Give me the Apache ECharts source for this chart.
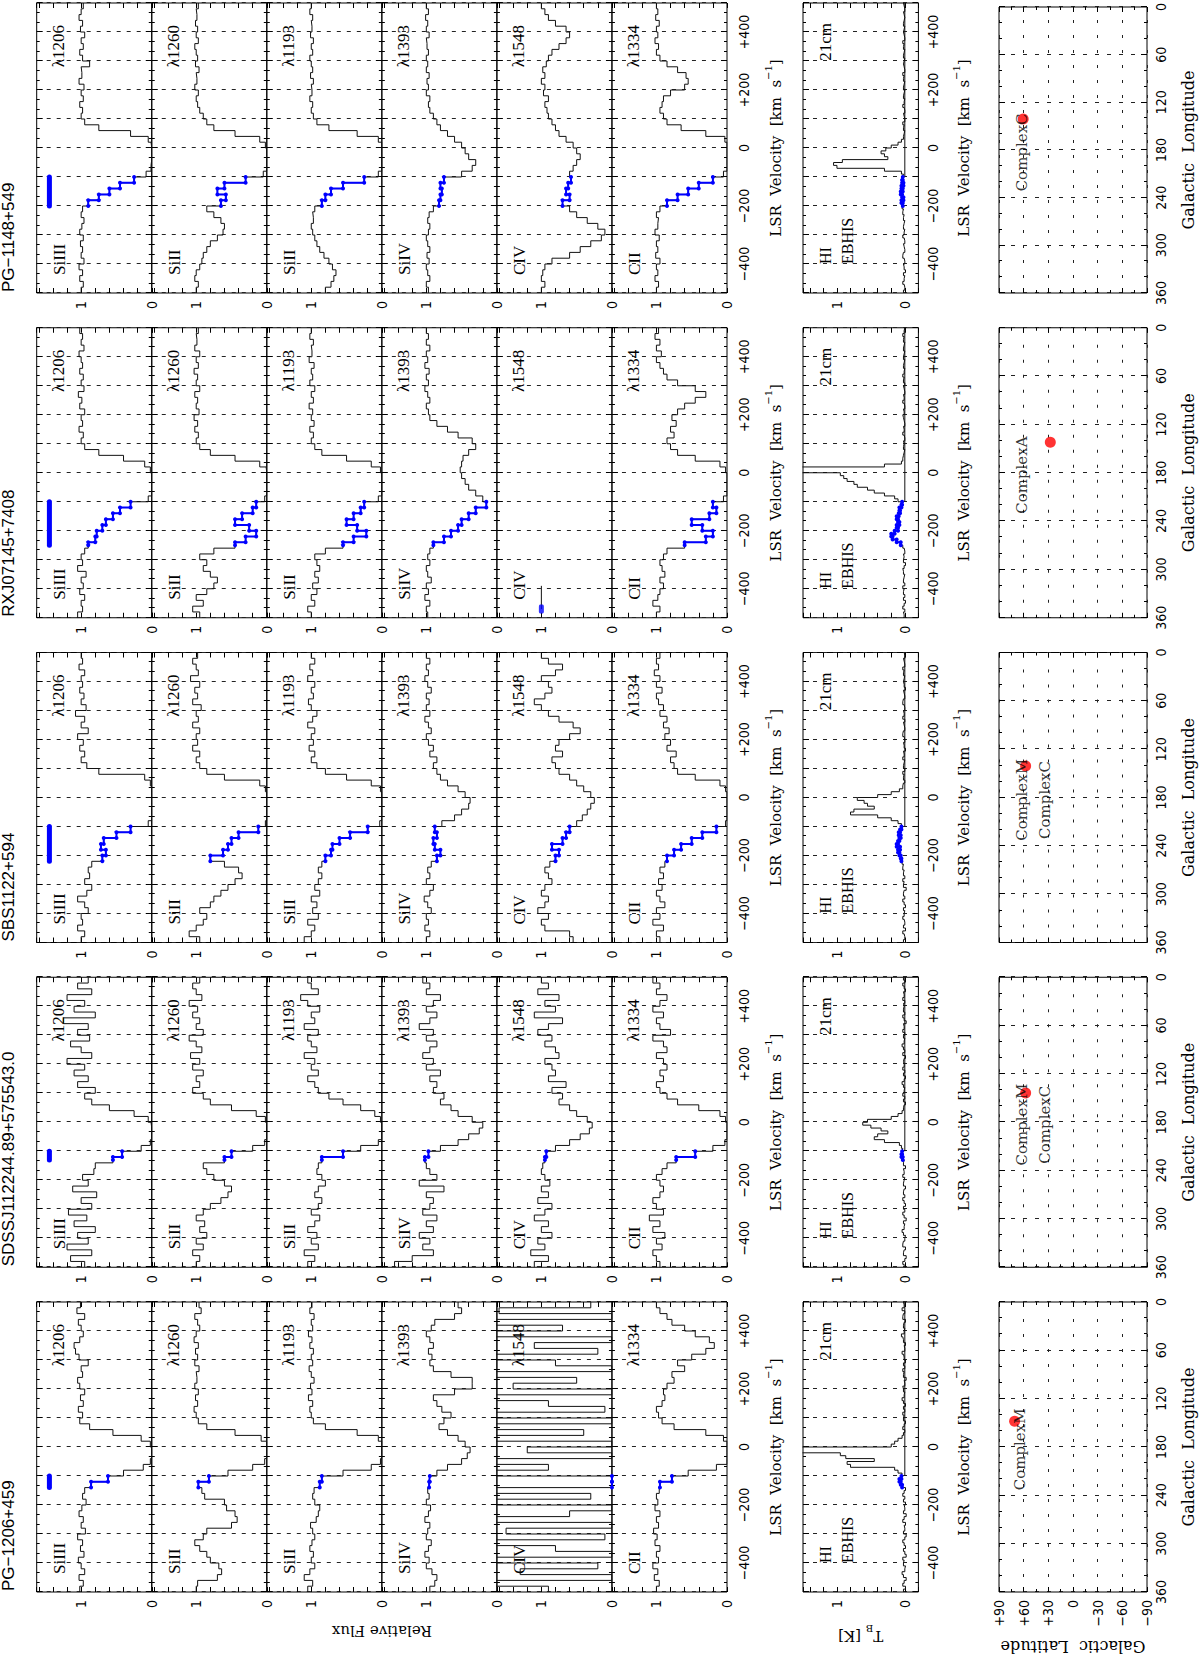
<!DOCTYPE html>
<html>
<head>
<meta charset="utf-8">
<script src="https://cdn.jsdelivr.net/npm/echarts/dist/echarts.min.js"></script>
<style>
html,body{margin:0;padding:0;background:#fff;overflow:hidden;width:1200px;height:1655px;}
#chart{position:absolute;left:0;top:0;width:1655px;height:1200px;transform-origin:0 0;transform:translate(0,1655px) rotate(-90deg);}
</style>
</head>
<body>
<div id="chart"></div>
<script>
// ---------------- DATA ----------------
const SIGHTLINES = ['PG\u22121206+459', 'SDSSJ112244.89+575543.0', 'SBS1122+594', 'RXJ07145+7408', 'PG\u22121148+549'];
const IONS = ['SiIII', 'SiII', 'SiII', 'SiIV', 'CIV', 'CII'];
const LINES = ['\u03bb1206', '\u03bb1260', '\u03bb1193', '\u03bb1393', '\u03bb1548', '\u03bb1334'];

// velocity bin centres (km/s) of the UV spectra (20 km/s bins)
const VEL = [-490,-470,-450,-430,-410,-390,-370,-350,-330,-310,
             -290,-270,-250,-230,-210,-190,-170,-150,-130,-110,
             -90,-70,-50,-30,-10,10,30,50,70,90,
             110,130,150,170,190,210,230,250,270,290,
             310,330,350,370,390,410,430,450,470,490];
// velocity bin centres (km/s) of the 21cm spectra (10 km/s bins)
const VEL21 = [-495,-485,-475,-465,-455,-445,-435,-425,-415,-405,
               -395,-385,-375,-365,-355,-345,-335,-325,-315,-305,
               -295,-285,-275,-265,-255,-245,-235,-225,-215,-205,
               -195,-185,-175,-165,-155,-145,-135,-125,-115,-105,
               -95,-85,-75,-65,-55,-45,-35,-25,-15,-5,
               5,15,25,35,45,55,65,75,85,95,
               105,115,125,135,145,155,165,175,185,195,
               205,215,225,235,245,255,265,275,285,295,
               305,315,325,335,345,355,365,375,385,395,
               405,415,425,435,445,455,465,475,485,495];

// HVC velocity ranges (km/s) marked in blue
const HVC_RANGES = [[-140,-100],[-130,-100],[-220,-100],[-250,-100],[-200,-100]];
const BAR_LEVEL = 1.45;
const HI_BASELINE = [-100, 500];

// ---- PG-1206+459 ----
const PG1206_SiIII = [1.02,0.97,1.03,0.95,1.00,1.04,0.96,1.01,0.98,1.05, 0.94,1.00,0.97,1.03,0.99,0.93,0.98,0.95,0.86,0.62, 0.40,0.12,0.02,0.00,0.00,0.02,0.15,0.55,0.88,1.02, 0.98,1.04,0.97,1.01,0.95,1.02,1.05,0.98,1.00,0.90, 1.03,1.08,1.10,1.02,0.97,1.00,1.04,0.95,1.06,1.01];
const PG1206_SiII1260 = [1.00,0.98,0.70,0.64,0.68,0.80,0.85,0.95,1.02,0.90, 0.85,0.50,0.42,0.45,0.57,0.60,0.88,0.92,0.97,0.82, 0.55,0.20,0.03,0.00,0.00,0.00,0.08,0.45,0.85,0.97, 1.00,1.03,0.98,1.01,0.97,1.02,0.99,1.00,0.96,1.02, 0.98,1.01,0.97,1.03,1.00,0.95,0.98,1.02,0.93,0.96];
const PG1206_SiII1193 = [1.05,0.98,1.10,1.02,0.95,1.00,0.97,1.02,0.99,0.95, 0.98,1.01,0.93,0.90,0.88,0.95,0.98,0.96,0.88,0.85, 0.55,0.15,0.02,0.00,0.00,0.00,0.05,0.35,0.80,0.97, 1.00,1.02,0.98,1.04,0.99,1.01,0.96,1.00,1.03,0.98, 1.00,0.97,1.02,0.99,1.04,0.98,1.00,0.96,1.02,0.99];
const PG1206_SiIV = [0.95,0.88,0.85,0.92,1.00,0.96,1.02,0.97,0.93,1.00, 0.98,0.95,1.02,0.97,0.94,1.00,0.96,0.98,0.96,0.95, 0.85,0.70,0.50,0.42,0.38,0.45,0.55,0.70,0.82,0.75, 0.65,0.78,0.85,0.90,0.60,0.35,0.35,0.65,0.90,0.95, 0.92,0.97,0.90,0.95,1.00,0.93,0.88,0.60,0.50,0.55];
const PG1206_CIV = [0.90,2.00,0.00,1.30,0.20,2.00,0.00,0.80,2.00,0.10, 1.50,0.00,2.00,0.60,0.00,2.00,0.30,1.80,0.00,0.00, 2.00,0.90,2.00,0.00,1.20,0.00,2.00,0.40,1.70,0.00, 2.00,0.10,0.90,2.00,0.00,1.40,0.50,2.00,0.00,0.80, 2.00,0.20,1.10,0.00,2.00,0.70,2.00,0.00,1.60,0.30];
const PG1206_CII = [1.00,0.96,1.03,0.98,1.05,0.97,1.00,0.95,1.02,0.99, 1.04,0.97,1.00,0.95,1.02,0.98,1.00,0.96,0.95,0.78, 0.55,0.15,0.00,0.00,0.00,0.00,0.05,0.30,0.75,0.92, 0.97,1.00,0.92,0.88,0.90,0.85,0.75,0.78,0.60,0.70, 0.50,0.30,0.18,0.25,0.45,0.60,0.78,0.85,0.95,1.00];
const PG1206_HI = [0.02,-0.01,0.03,0.01,-0.02,0.02,0.04,0.00,-0.01,0.02, 0.01,0.03,-0.02,0.00,0.02,-0.01,0.01,0.03,0.00,-0.02, 0.02,0.00,0.01,-0.01,0.03,0.01,-0.02,0.02,0.00,0.01, -0.01,0.02,0.00,0.03,0.01,-0.01,0.04,0.06,0.08,0.05, 0.04,0.10,0.15,0.80,0.85,0.45,0.87,0.95,2.00,2.00, 0.20,0.15,0.10,0.04,0.02,0.00,0.03,0.01,-0.01,0.02, 0.01,0.03,0.00,0.02,-0.01,0.02,0.04,0.01,0.00,0.02, 0.03,0.00,0.01,-0.02,0.02,0.01,0.03,0.00,0.02,-0.01, 0.01,0.02,0.04,0.00,0.01,-0.01,0.02,0.03,0.05,0.01, 0.00,0.02,0.01,-0.01,0.03,0.02,0.00,0.04,0.01,0.02];

// ---- SDSSJ112244.89+575543.0 ----
const SDSS_SiIII = [0.95,1.15,0.85,1.20,0.90,1.05,0.80,1.10,0.92,1.18, 0.85,1.00,0.78,1.12,0.90,0.98,0.82,0.80,0.55,0.42, 0.15,0.02,0.00,0.00,0.01,0.05,0.25,0.60,0.85,0.95, 0.80,1.05,0.90,1.10,0.95,1.20,0.85,1.00,1.15,0.88, 1.05,0.90,1.25,0.80,1.10,0.95,1.20,0.85,1.05,0.90];
const SDSS_SiII1260 = [1.00,0.95,1.05,0.90,1.00,0.85,0.95,0.88,1.00,0.90, 0.80,0.65,0.55,0.50,0.60,0.75,0.85,0.90,0.60,0.50, 0.20,0.03,0.00,0.00,0.00,0.02,0.15,0.50,0.80,0.90, 1.05,0.95,1.00,0.90,1.05,0.95,1.08,0.92,1.00,1.10, 0.90,1.00,0.95,1.05,0.98,1.10,0.92,1.00,1.05,0.95];
const SDSS_SiII1193 = [1.05,0.95,1.10,0.90,1.00,0.92,1.05,0.95,0.88,1.00, 0.90,0.85,0.95,0.90,0.80,0.85,0.92,0.90,0.85,0.55, 0.30,0.05,0.00,0.00,0.00,0.02,0.10,0.30,0.55,0.75, 0.90,0.95,1.05,0.90,1.00,0.95,1.10,0.92,1.00,1.05, 0.90,1.10,0.95,1.00,0.88,1.05,1.15,0.90,1.00,1.05];
const SDSS_SiIV = [1.45,1.20,0.90,1.05,0.95,1.10,0.90,1.00,0.85,1.05, 0.95,0.90,1.00,0.75,1.10,0.85,0.95,1.00,1.02,0.97, 0.80,0.55,0.40,0.25,0.20,0.35,0.55,0.65,0.80,0.75, 0.90,0.85,0.95,0.80,1.00,0.90,1.05,0.95,0.85,1.00, 0.90,1.10,0.95,0.85,1.00,0.90,0.80,1.00,0.95,1.05];
const SDSS_CIV = [1.10,0.90,1.15,0.95,1.05,0.85,1.00,0.90,1.10,0.95, 0.85,1.05,0.90,1.00,0.88,0.95,1.00,0.98,0.95,0.93, 0.80,0.60,0.45,0.32,0.28,0.35,0.50,0.60,0.75,0.70, 0.85,0.65,0.90,0.80,0.85,0.95,0.75,0.80,0.95,0.85, 1.05,0.90,0.70,1.10,0.80,0.95,0.75,1.05,0.90,1.00];
const SDSS_CII = [0.95,1.00,1.05,0.92,1.00,0.88,1.05,0.95,1.10,0.90, 1.00,1.05,0.95,0.90,0.95,1.00,0.92,0.85,0.72,0.45, 0.20,0.03,0.00,0.00,0.00,0.02,0.10,0.40,0.70,0.85, 0.95,1.00,0.90,0.95,0.85,0.90,1.00,0.85,0.90,1.05, 0.80,0.95,1.00,0.90,1.05,0.95,0.85,1.00,0.95,1.05];
const SDSS_HI = [0.01,0.03,0.00,-0.02,0.02,0.01,-0.01,0.03,0.02,0.00, -0.01,0.02,0.04,0.01,0.00,0.02,-0.02,0.01,0.03,0.00, 0.02,-0.01,0.01,0.03,0.00,0.02,0.01,-0.01,0.02,0.01, 0.00,0.03,0.01,0.02,-0.01,0.02,0.01,0.03,0.05,0.04, 0.03,0.05,0.08,0.30,0.45,0.40,0.25,0.35,0.50,0.62, 0.55,0.20,0.10,0.04,0.02,0.01,-0.01,0.02,0.00,0.03, 0.01,0.00,0.02,0.04,0.01,-0.01,0.02,0.00,0.03,0.01, 0.02,0.01,-0.01,0.03,0.00,0.02,0.04,0.01,0.00,0.02, 0.00,0.03,0.01,0.02,-0.02,0.01,0.03,0.00,0.02,0.01, 0.02,0.00,0.03,0.01,0.02,-0.01,0.01,0.03,0.00,0.02];

// ---- SBS1122+594 ----
const SBS_SiIII = [1.00,0.95,1.05,0.98,1.00,0.90,0.95,1.05,0.92,0.85, 0.95,0.88,0.90,0.85,0.70,0.65,0.72,0.68,0.50,0.30, 0.05,0.00,0.00,0.00,0.00,0.00,0.00,0.02,0.10,0.75, 0.92,1.00,0.95,1.02,0.97,1.05,0.90,1.00,0.95,1.08, 0.93,1.00,0.96,1.02,0.98,1.00,0.95,1.03,0.98,1.00];
const SBS_SiII1260 = [0.95,1.10,1.00,0.90,0.85,0.95,0.80,0.75,0.65,0.55, 0.45,0.35,0.40,0.60,0.80,0.62,0.55,0.50,0.40,0.12, 0.02,0.00,0.00,0.00,0.00,0.00,0.02,0.10,0.60,0.85, 0.95,1.00,0.95,1.05,0.98,1.00,0.95,1.05,0.97,1.00, 0.93,1.05,0.98,1.02,0.95,1.08,0.97,1.00,1.05,0.98];
const SBS_SiII1193 = [1.10,1.00,0.95,1.05,0.90,0.98,0.92,1.00,0.88,0.95, 0.90,0.85,0.90,0.85,0.80,0.72,0.70,0.60,0.45,0.20, 0.03,0.00,0.00,0.00,0.00,0.00,0.02,0.15,0.50,0.80, 0.92,1.00,0.95,1.03,0.97,1.00,0.95,1.05,0.98,0.92, 1.00,1.04,0.97,1.00,0.95,1.05,0.98,1.02,0.95,1.00];
const SBS_SiIV = [1.00,0.95,1.02,0.97,1.00,0.93,0.98,1.03,0.95,0.90, 1.00,0.95,0.98,0.93,0.85,0.80,0.88,0.90,0.85,0.88, 0.78,0.60,0.50,0.40,0.38,0.45,0.55,0.70,0.80,0.85, 0.90,0.85,0.95,0.90,0.97,1.00,0.93,0.97,1.02,0.95, 1.00,0.96,1.00,0.93,0.98,1.02,0.97,1.00,0.95,1.00];
const SBS_CIV = [0.55,0.60,0.95,1.00,0.90,1.05,0.95,0.90,1.00,0.95, 0.85,0.90,0.95,0.88,0.80,0.75,0.85,0.70,0.65,0.60, 0.50,0.42,0.35,0.30,0.25,0.30,0.40,0.50,0.60,0.75, 0.80,0.85,0.70,0.80,0.75,0.60,0.45,0.55,0.75,0.90, 1.00,1.10,0.95,0.85,0.90,1.00,0.80,0.70,0.90,1.00];
const SBS_CII = [0.95,1.00,0.90,1.05,0.95,1.00,0.88,0.95,1.00,0.92, 0.97,0.90,0.95,0.88,0.85,0.75,0.65,0.50,0.35,0.15, 0.02,0.00,0.00,0.00,0.00,0.00,0.02,0.10,0.45,0.70, 0.75,0.80,0.72,0.85,0.80,0.88,0.82,0.90,0.85,0.95, 0.90,0.97,1.00,0.92,1.00,0.95,1.03,0.97,1.00,0.95];
const SBS_HI = [0.02,0.00,0.01,0.03,-0.01,0.02,0.00,0.01,0.03,0.01, 0.00,0.02,-0.01,0.01,0.03,0.00,0.02,0.01,-0.02,0.02, 0.01,0.03,0.00,0.02,0.01,0.03,0.02,0.04,0.05,0.06, 0.08,0.10,0.07,0.12,0.10,0.08,0.06,0.09,0.07,0.05, 0.05,0.10,0.20,0.40,0.80,0.75,0.45,0.55,0.60,0.70, 0.40,0.20,0.08,0.03,0.02,0.00,0.02,0.01,0.03,0.00, 0.02,0.01,0.00,0.03,0.01,0.02,-0.01,0.01,0.02,0.00, 0.01,0.03,0.02,0.00,0.01,0.02,0.00,0.03,0.01,0.02, 0.00,0.01,0.03,0.02,0.00,0.01,0.02,-0.01,0.01,0.02, 0.01,0.00,0.02,0.01,0.03,0.00,0.01,0.02,0.00,0.01];

// ---- RXJ07145+7408 ----
const RXJ_SiIII = [1.05,0.98,1.00,0.95,1.02,0.97,1.00,0.93,1.05,0.98, 1.00,0.95,0.90,0.80,0.78,0.70,0.65,0.55,0.45,0.30, 0.05,0.00,0.00,0.00,0.00,0.02,0.10,0.40,0.75,0.95, 1.00,0.97,1.03,0.98,1.00,0.95,1.02,0.99,1.04,0.96, 1.00,0.97,1.02,0.98,1.00,1.03,0.96,1.00,0.98,1.02];
const RXJ_SiII1260 = [0.95,1.05,0.90,1.00,0.85,0.75,0.70,0.80,0.90,0.85, 0.95,0.75,0.45,0.30,0.15,0.25,0.45,0.35,0.20,0.15, 0.03,0.00,0.00,0.00,0.00,0.01,0.10,0.45,0.80,0.95, 1.00,0.97,1.02,0.98,1.03,0.96,1.00,0.98,1.02,0.95, 1.00,0.98,1.03,0.97,1.00,0.95,1.02,0.99,1.00,0.97];
const RXJ_SiII1193 = [1.00,1.05,0.95,1.00,0.92,0.98,0.90,0.95,0.88,0.92, 0.95,0.80,0.55,0.40,0.22,0.35,0.50,0.40,0.30,0.25, 0.05,0.00,0.00,0.00,0.00,0.02,0.15,0.50,0.85,0.95, 1.00,0.97,1.02,0.96,1.00,0.98,1.03,0.97,1.00,0.95, 1.02,0.98,1.00,0.96,1.03,0.99,1.00,0.97,1.02,1.00];
const RXJ_SiIV = [0.98,1.00,0.95,1.02,0.97,1.00,0.93,0.98,1.00,0.95, 0.98,0.95,0.90,0.75,0.65,0.55,0.50,0.40,0.30,0.15, 0.20,0.30,0.40,0.45,0.50,0.52,0.50,0.48,0.40,0.30, 0.35,0.55,0.70,0.85,0.95,0.97,1.00,0.95,0.98,1.02, 0.97,1.00,0.96,1.02,0.98,1.00,0.95,1.00,0.97,1.00];
const RXJ_CIV_V = [-470, -390];
const RXJ_CIV_F = [1.0, 1.0];
const RXJ_CII = [1.00,0.95,1.05,0.98,0.95,0.90,0.95,0.88,0.92,0.95, 0.90,0.85,0.60,0.30,0.20,0.35,0.50,0.25,0.15,0.20, 0.05,0.00,0.00,0.00,0.00,0.02,0.10,0.45,0.70,0.80, 0.85,0.75,0.80,0.72,0.78,0.70,0.60,0.45,0.30,0.45, 0.70,0.85,0.90,0.95,1.00,0.93,1.00,0.95,1.02,0.97];
const RXJ_HI = [0.01,0.02,0.00,0.03,0.01,-0.01,0.02,0.00,0.02,0.01, 0.03,0.00,0.02,0.01,0.00,0.02,0.03,0.01,-0.01,0.02, 0.01,0.02,0.00,0.01,0.03,0.06,0.12,0.18,0.20,0.15, 0.10,0.12,0.08,0.10,0.12,0.09,0.07,0.08,0.05,0.04, 0.10,0.15,0.30,0.45,0.55,0.70,0.75,0.85,0.90,0.95, 2.00,2.00,0.30,0.05,0.03,0.02,0.01,0.00,0.02,0.01, 0.02,0.00,0.01,0.03,0.01,0.02,0.00,0.01,0.02,0.03, 0.01,0.02,0.00,0.01,0.03,0.01,0.02,0.00,0.01,0.02, 0.00,0.02,0.01,0.03,0.01,0.00,0.02,0.01,0.00,0.02, 0.01,0.00,0.02,0.01,0.00,0.02,0.01,0.03,0.01,0.00];

// ---- PG-1148+549 ----
const PG1148_SiIII = [1.00,0.97,1.02,0.98,1.03,0.96,1.00,0.98,1.01,0.97, 1.02,0.99,0.96,1.00,0.98,0.90,0.75,0.60,0.45,0.25, 0.08,0.01,0.00,0.00,0.00,0.01,0.05,0.30,0.75,0.95, 1.00,0.98,1.02,0.97,1.00,0.96,1.03,0.99,1.00,0.88, 0.98,1.02,0.97,1.00,0.95,1.01,0.98,1.03,1.00,0.97];
const PG1148_SiII1260 = [1.00,0.97,1.02,1.00,0.95,0.92,0.90,0.85,0.80,0.70, 0.62,0.60,0.65,0.75,0.85,0.65,0.58,0.70,0.60,0.30, 0.05,0.00,0.00,0.00,0.00,0.02,0.10,0.45,0.75,0.85, 0.90,0.95,0.98,1.00,0.97,1.02,0.99,1.00,0.96,1.01, 0.98,1.00,1.02,0.97,1.00,0.98,1.01,0.99,1.00,0.97];
const PG1148_SiII1193 = [0.80,0.72,0.68,0.65,0.70,0.75,0.82,0.88,0.92,0.95, 0.98,1.00,0.97,0.98,0.95,0.85,0.80,0.72,0.55,0.25, 0.05,0.00,0.00,0.00,0.00,0.00,0.05,0.35,0.75,0.92, 0.97,1.00,0.98,1.02,0.99,1.00,0.97,1.01,0.98,1.00, 1.02,0.98,1.00,0.97,1.01,0.99,1.00,0.98,1.02,1.00];
const PG1148_SiIV = [0.97,1.00,0.95,0.98,1.00,0.96,0.99,0.95,0.98,1.00, 0.97,0.95,0.98,0.96,0.90,0.82,0.80,0.78,0.80,0.75, 0.50,0.35,0.30,0.40,0.45,0.50,0.60,0.70,0.80,0.85, 0.90,0.95,0.97,0.95,1.00,0.97,0.99,0.96,1.00,0.98, 1.00,0.97,0.99,1.00,0.96,1.00,0.98,1.01,0.97,1.00];
const PG1148_CIV = [1.00,0.95,1.00,0.98,0.95,0.85,0.60,0.45,0.30,0.15, 0.10,0.20,0.35,0.50,0.60,0.70,0.60,0.65,0.62,0.58, 0.60,0.55,0.50,0.45,0.50,0.55,0.65,0.75,0.80,0.85, 0.90,0.92,0.95,0.90,0.97,0.95,1.00,0.95,0.98,0.93, 0.90,0.85,0.75,0.65,0.60,0.65,0.80,0.90,0.95,1.00];
const PG1148_CII = [1.00,0.97,1.02,0.98,1.00,0.95,1.01,0.98,1.00,0.96, 1.02,0.98,0.97,1.00,0.95,0.85,0.70,0.55,0.40,0.20, 0.05,0.00,0.00,0.00,0.00,0.00,0.03,0.30,0.65,0.85, 0.90,0.95,0.92,0.90,0.80,0.60,0.55,0.58,0.70,0.85, 0.95,1.00,0.97,1.02,0.98,1.00,0.96,1.01,0.98,1.00];
const PG1148_HI = [0.02,0.00,0.01,0.03,0.01,0.00,0.02,-0.01,0.01,0.02, 0.00,0.01,0.03,0.02,0.00,0.01,0.02,0.00,0.01,0.03, 0.01,0.00,0.02,0.01,0.00,0.02,0.01,0.03,0.02,0.04, 0.03,0.05,0.02,0.04,0.06,0.03,0.05,0.02,0.04,0.03, 0.02,0.05,0.30,1.00,1.05,0.92,0.25,0.30,0.35,0.28, 0.20,0.10,0.05,0.02,0.01,0.00,0.02,0.01,0.03,0.00, 0.01,0.02,0.00,0.01,0.03,0.01,0.00,0.02,0.01,0.00, 0.02,0.01,0.00,0.02,0.01,0.03,0.00,0.01,0.02,0.01, 0.00,0.02,0.01,0.00,0.02,0.01,0.03,0.00,0.01,0.02, 0.01,0.00,0.02,0.01,0.00,0.01,0.02,0.00,0.01,0.02];

// Sky positions (Galactic longitude / latitude, deg)
const GAL_L = [148, 143.6, 141, 142, 141];
const GAL_B = [71, 57.6, 57.6, 27.6, 60.6];
const COMPLEX_NAMES = [['ComplexM'], ['ComplexM','ComplexC'], ['ComplexM','ComplexC'], ['ComplexA'], ['ComplexC']];
const COMPLEX_LABEL_L = 183;
const COMPLEX_LABEL_B = [[64], [62, 34], [62, 34], [62], [62]];

const ABS = [
  [PG1206_SiIII, PG1206_SiII1260, PG1206_SiII1193, PG1206_SiIV, PG1206_CIV, PG1206_CII],
  [SDSS_SiIII, SDSS_SiII1260, SDSS_SiII1193, SDSS_SiIV, SDSS_CIV, SDSS_CII],
  [SBS_SiIII, SBS_SiII1260, SBS_SiII1193, SBS_SiIV, SBS_CIV, SBS_CII],
  [RXJ_SiIII, RXJ_SiII1260, RXJ_SiII1193, RXJ_SiIV, null, RXJ_CII],
  [PG1148_SiIII, PG1148_SiII1260, PG1148_SiII1193, PG1148_SiIV, PG1148_CIV, PG1148_CII]
];
const HI21 = [PG1206_HI, SDSS_HI, SBS_HI, RXJ_HI, PG1148_HI];

// ---------------- LAYOUT (unrotated figure, 1655 x 1200) ----------------
const COL_LEFT = [63, 387.75, 712.5, 1037.25, 1362];
const COL_W = 290;
const ROW_TOP = [36.7, 151.75, 266.8, 381.85, 496.9, 611.95];
const ROW_H = 115.05;
const HI_TOP = 803, HI_H = 115.4;
const SKY_TOP = 999, SKY_H = 148;

const SANS = "'Liberation Sans', Arial, Helvetica, sans-serif";
const TICKF = "'Liberation Sans Narrow', 'DejaVu Sans Condensed', 'Liberation Sans', sans-serif";
const SERIF = "'DejaVu Serif', serif";
const LSERIF = "'Liberation Serif', 'Times New Roman', serif";
const BLUE = '#0000ff';

function stepPoints(centers, vals, w) {
  const pts = [];
  for (let i = 0; i < centers.length; i++) {
    pts.push([centers[i] - w / 2, vals[i]], [centers[i] + w / 2, vals[i]]);
  }
  return pts;
}
function hvcPoints(centers, vals, w, range) {
  const pts = [];
  for (let i = 0; i < centers.length; i++) {
    const lo = centers[i] - w / 2, hi = centers[i] + w / 2;
    if (hi <= range[0] || lo >= range[1]) continue;
    pts.push([Math.max(lo, range[0]), vals[i]], [Math.min(hi, range[1]), vals[i]]);
  }
  return pts;
}
const near = (a, b) => Math.abs(a - b) < 1e-6;
function velFmt(v) {
  const r = Math.round(v);
  if (r % 200 !== 0 || Math.abs(r) > 400) return '';
  return r > 0 ? '+' + r : (r < 0 ? '\u2212' + (-r) : '0');
}
function fluxFmt(v) { return near(v, 0) ? '0' : (near(v, 1) ? '1' : ''); }
function latFmt(v) {
  const r = Math.round(v);
  if (r % 30 !== 0) return '';
  return r > 0 ? '+' + r : (r < 0 ? '\u2212' + (-r) : '0');
}
function lonFmt(v) { const r = Math.round(v); return r % 60 === 0 ? String(r) : ''; }

const grids = [], xAxes = [], yAxes = [], series = [], graphics = [];
const noLine = { show: false, onZero: false };
const tick = (len) => ({ show: true, inside: true, length: len, lineStyle: { color: '#000', width: 1 } });
const minor = (n) => ({ show: true, splitNumber: n, length: 3, lineStyle: { color: '#000', width: 1 } });
const dashed = { show: true, lineStyle: { color: '#222', width: 1, type: [4, 6] } };
const dashedLon = { show: true, lineStyle: { color: '#222', width: 1, type: [4, 8] } };
const dashedLat = { show: true, lineStyle: { color: '#222', width: 1, type: [3, 12] } };
const VEL_NAME = '{n|LSR  Velocity  [km  s}{s|\u22121}{n|]}';
const nameStyle = {
  color: '#000', fontFamily: SERIF, fontSize: 15,
  rich: {
    n: { fontFamily: SERIF, fontSize: 15, color: '#000', lineHeight: 20, verticalAlign: 'bottom' },
    s: { fontFamily: SERIF, fontSize: 10, color: '#000', lineHeight: 20, verticalAlign: 'top' }
  }
};

function addPanel(left, top, w, h, X, Y) {
  const gi = grids.length;
  grids.push({ left, top, width: w, height: h, show: true, borderColor: '#000', borderWidth: 1, backgroundColor: 'rgba(0,0,0,0)' });
  const xi = xAxes.length;
  xAxes.push(Object.assign({
    gridIndex: gi, type: 'value', position: 'bottom', min: X.min, max: X.max, interval: X.interval, inverse: !!X.inverse,
    axisLine: noLine, axisTick: tick(6), minorTick: minor(X.minor),
    axisLabel: X.label ? { show: true, formatter: X.fmt, margin: X.margin, color: '#000', fontFamily: TICKF, fontSize: 14 } : { show: false },
    splitLine: X.split, minorSplitLine: { show: false }
  }, X.extra || {}));
  xAxes.push({
    gridIndex: gi, type: 'value', position: 'top', min: X.min, max: X.max, interval: X.interval, inverse: !!X.inverse,
    axisLine: noLine, axisTick: tick(6), minorTick: minor(X.minor), axisLabel: { show: false }, splitLine: { show: false }
  });
  const yi = yAxes.length;
  yAxes.push({
    gridIndex: gi, type: 'value', position: 'left', min: Y.min, max: Y.max, interval: Y.interval,
    axisLine: noLine, axisTick: tick(5), minorTick: Y.minor ? minor(Y.minor) : { show: false },
    axisLabel: Y.label ? { show: true, formatter: Y.fmt, margin: 8, color: '#000', fontFamily: TICKF, fontSize: 14 } : { show: false },
    splitLine: Y.split || { show: false }
  });
  yAxes.push({
    gridIndex: gi, type: 'value', position: 'right', min: Y.min, max: Y.max, interval: Y.interval,
    axisLine: noLine, axisTick: tick(5), minorTick: Y.minor ? minor(Y.minor) : { show: false },
    axisLabel: { show: false }, splitLine: { show: false }
  });
  return { xi, yi };
}

function text(x, y, str, font, size, align, valign, rot, rich) {
  const st = { text: str, fontFamily: font, fontSize: size, fill: '#000', align: align, verticalAlign: valign };
  if (rich) st.rich = rich;
  const el = { type: 'text', x: x, y: y, style: st, silent: true };
  if (rot) el.rotation = rot;
  graphics.push(el);
}

for (let c = 0; c < 5; c++) {
  const L = COL_LEFT[c], R = L + COL_W;
  text(L + 1, 0, SIGHTLINES[c], SANS, 17, 'left', 'top');
  // absorption panels
  for (let r = 0; r < 6; r++) {
    const last = r === 5;
    const ax = addPanel(L, ROW_TOP[r], COL_W, ROW_H,
      { min: -500, max: 500, interval: 100, minor: 3, label: last, fmt: velFmt, margin: 10, split: dashed,
        extra: last ? { name: VEL_NAME, nameLocation: 'middle', nameGap: 36, nameTextStyle: nameStyle } : {} },
      { min: 0, max: 1.63, interval: 0.2, label: true, fmt: fluxFmt });
    const vals = ABS[c][r];
    if (vals) {
      series.push({ type: 'line', xAxisIndex: ax.xi, yAxisIndex: ax.yi, data: stepPoints(VEL, vals, 20),
        symbol: 'none', lineStyle: { color: '#111', width: 1 }, silent: true, clip: true, z: 2 });
      series.push({ type: 'line', xAxisIndex: ax.xi, yAxisIndex: ax.yi, data: hvcPoints(VEL, vals, 20, HVC_RANGES[c]),
        symbol: 'circle', symbolSize: 4, showAllSymbol: true, itemStyle: { color: BLUE }, lineStyle: { color: BLUE, width: 2 }, silent: true, clip: true, z: 3 });
    } else {
      series.push({ type: 'line', xAxisIndex: ax.xi, yAxisIndex: ax.yi, data: RXJ_CIV_V.map((v, i) => [v, RXJ_CIV_F[i]]),
        symbol: 'none', lineStyle: { color: '#111', width: 1 }, silent: true, z: 2 });
      series.push({ type: 'scatter', xAxisIndex: ax.xi, yAxisIndex: ax.yi, data: [[RXJ_CIV_V[0], RXJ_CIV_F[0]]],
        symbol: 'roundRect', symbolSize: [9, 5], itemStyle: { color: BLUE }, silent: true, z: 3 });
    }
    if (r === 0) {
      series.push({ type: 'line', xAxisIndex: ax.xi, yAxisIndex: ax.yi,
        data: [[HVC_RANGES[c][0], BAR_LEVEL], [HVC_RANGES[c][1], BAR_LEVEL]],
        symbol: 'none', lineStyle: { color: BLUE, width: 5, cap: 'round' }, silent: true, z: 3 });
    }
    const top = ROW_TOP[r];
    text(L + 18, top + 23, IONS[r], LSERIF, 17, 'left', 'middle');
    text(R - 22, top + 22, LINES[r], LSERIF, 17, 'right', 'middle');
  }
  // 21cm panel
  const hx = addPanel(L, HI_TOP, COL_W, HI_H,
    { min: -500, max: 500, interval: 100, minor: 3, label: true, fmt: velFmt, margin: 8, split: dashed,
      extra: { name: VEL_NAME, nameLocation: 'middle', nameGap: 33, nameTextStyle: nameStyle } },
    { min: -0.2, max: 1.5, interval: 0.2, label: true, fmt: fluxFmt });
  series.push({ type: 'line', xAxisIndex: hx.xi, yAxisIndex: hx.yi, data: HI_BASELINE.map(v => [v, 0]),
    symbol: 'none', lineStyle: { color: '#111', width: 1 }, silent: true, z: 1 });
  series.push({ type: 'line', xAxisIndex: hx.xi, yAxisIndex: hx.yi, data: stepPoints(VEL21, HI21[c], 10),
    symbol: 'none', lineStyle: { color: '#111', width: 1 }, silent: true, clip: true, z: 2 });
  series.push({ type: 'line', xAxisIndex: hx.xi, yAxisIndex: hx.yi, data: hvcPoints(VEL21, HI21[c], 10, HVC_RANGES[c]),
    symbol: 'circle', symbolSize: 4, showAllSymbol: true, itemStyle: { color: BLUE }, lineStyle: { color: BLUE, width: 2 }, silent: true, clip: true, z: 3 });
  text(L + 29, HI_TOP + 22, 'HI', LSERIF, 16, 'left', 'middle');
  text(L + 29, HI_TOP + 44, 'EBHIS', LSERIF, 16, 'left', 'middle');
  text(R - 20, HI_TOP + 22, '21cm', LSERIF, 17, 'right', 'middle');
  // sky map
  const sx = addPanel(L, SKY_TOP, COL_W, SKY_H,
    { min: 0, max: 360, interval: 60, minor: 3, inverse: true, label: true, fmt: lonFmt, margin: 7, split: dashedLon,
      extra: { name: 'Galactic  Longitude', nameLocation: 'middle', nameGap: 33, nameTextStyle: { color: '#000', fontFamily: SERIF, fontSize: 16 } } },
    { min: -90, max: 90, interval: 30, minor: 2, label: c === 0, fmt: latFmt, split: dashedLat });
  series.push({ type: 'scatter', xAxisIndex: sx.xi, yAxisIndex: sx.yi, data: [[GAL_L[c], GAL_B[c]]],
    symbol: 'circle', symbolSize: 11, itemStyle: { color: '#ff0000' }, silent: true, z: 3 });
  series.push({ type: 'scatter', xAxisIndex: sx.xi, yAxisIndex: sx.yi,
    data: COMPLEX_NAMES[c].map((n, i) => ({ name: n, value: [COMPLEX_LABEL_L, COMPLEX_LABEL_B[c][i]] })),
    symbol: 'circle', symbolSize: 1, itemStyle: { color: 'rgba(0,0,0,0)' }, silent: true, z: 4,
    label: { show: true, position: 'inside', formatter: '{b}', color: '#000', fontFamily: SERIF, fontSize: 15 } });
}

// axis titles on the left
text(24, (ROW_TOP[0] + ROW_TOP[5] + ROW_H) / 2, 'Relative Flux', SERIF, 15, 'center', 'middle', Math.PI / 2);
text(22, HI_TOP + HI_H / 2, '{t|T}{s|B}{t| [K]}', SERIF, 15, 'center', 'middle', Math.PI / 2,
  { t: { fontFamily: SERIF, fontSize: 15, fill: '#000', lineHeight: 20, verticalAlign: 'top' },
    s: { fontFamily: SERIF, fontSize: 10, fill: '#000', lineHeight: 20, verticalAlign: 'bottom' } });
text(9, SKY_TOP + SKY_H / 2, 'Galactic  Latitude', SERIF, 16, 'center', 'middle', Math.PI / 2);

const chart = echarts.init(document.getElementById('chart'), null, { renderer: 'svg', width: 1655, height: 1200 });
chart.setOption({
  animation: false,
  backgroundColor: '#fff',
  grid: grids, xAxis: xAxes, yAxis: yAxes, series: series,
  graphic: { elements: graphics }
});
</script>
</body>
</html>
